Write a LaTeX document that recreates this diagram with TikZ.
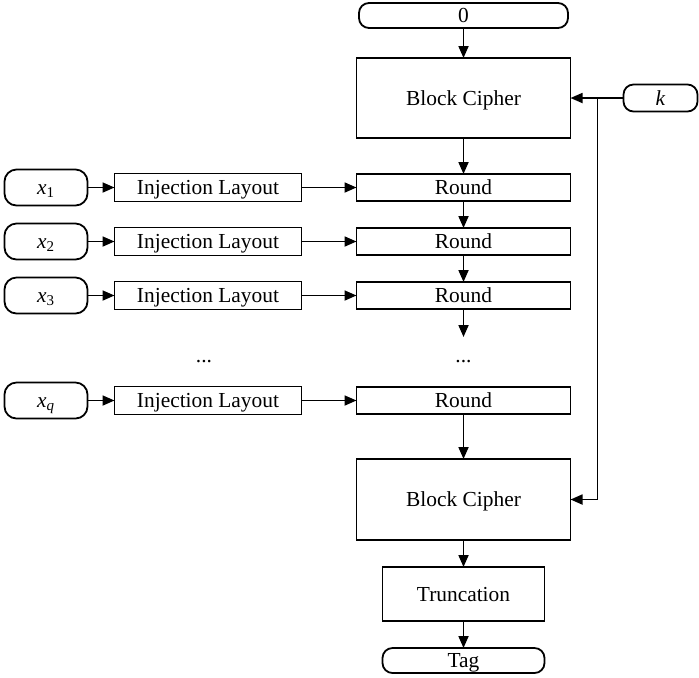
\documentclass[tikz,border=0pt]{standalone}
\usepackage{fontspec}
\setmainfont{Liberation Serif}
\usetikzlibrary{positioning,arrows.meta}

\begin{document}
\begin{tikzpicture}[line width=0.9pt, node distance=13.5pt]
    \tikzstyle{every node}=[font=\fontsize{10.7}{13}\selectfont, inner sep=0pt, outer sep=0pt,
        text height=7.3pt, text depth=0.3pt]
    \tikzstyle{box}=[draw, rectangle, minimum width=107pt, minimum height=13.5pt]
    \tikzstyle{term}=[draw, rectangle, rounded corners=5pt, minimum height=12.5pt]
    \tikzstyle{inbox}=[term, minimum width=41.5pt, minimum height=18pt, rounded corners=6pt]
    \tikzstyle{layout}=[draw, rectangle, minimum width=93.5pt, minimum height=14pt]
    \tikzstyle{arr}=[-{Triangle[length=6pt,width=5pt]}]

    \useasboundingbox (0,0) rectangle (349.5pt,-338.5pt);

    % main column
    \node[box, minimum height=40pt] (bc1) at (231.75pt,-49pt) {Block Cipher};
    \node[term, minimum width=104.5pt, above=15pt of bc1] (zero) {0};
    \node[term, minimum width=37pt, minimum height=13.5pt, right=26.5pt of bc1] (k) {\textit{k}};
    \node[box, below=18pt of bc1] (r1) {Round};
    \node[box, below=of r1] (r2) {Round};
    \node[box, below=of r2] (r3) {Round};
    \coordinate[below=14pt of r3] (r3out);
    \node[below=19.3pt of r3] (rdots) {...};
    \node[box, below=39pt of r3] (rq) {Round};
    \node[box, minimum height=40.5pt, below=22.5pt of rq] (bc2) {Block Cipher};
    \node[draw, rectangle, minimum width=81pt, minimum height=27pt, below=of bc2] (trunc) {Truncation};
    \node[term, minimum width=81pt, below=of trunc] (tag) {Tag};
    \coordinate[right=13.5pt of bc1.east] (kj);

    % inputs
    \node[layout, left=27.5pt of r1] (il1) {Injection Layout};
    \node[layout, left=27.5pt of r2] (il2) {Injection Layout};
    \node[layout, left=27.5pt of r3] (il3) {Injection Layout};
    \node[layout, left=27.5pt of rq] (ilq) {Injection Layout};
    \node[inbox, left=of il1] (x1) {\textit{x}\textsubscript{1}};
    \node[inbox, left=of il2] (x2) {\textit{x}\textsubscript{2}};
    \node[inbox, left=of il3] (x3) {\textit{x}\textsubscript{3}};
    \node[inbox, left=of ilq] (xq) {\textit{x}\textsubscript{\textit{q}}};
    \node[below=19.3pt of il3, xshift=-2pt] (ldots) {...};

    \draw[arr] (zero) -- (bc1);
    \draw[arr] (bc1) -- (r1);
    \draw[arr] (r1) -- (r2);
    \draw[arr] (r2) -- (r3);
    \draw[arr] (r3) -- (r3out);
    \draw[arr] (rq) -- (bc2);
    \draw[arr] (bc2) -- (trunc);
    \draw[arr] (trunc) -- (tag);
    \draw[arr] (k) -- (bc1);
    \draw[arr] (kj) |- (bc2.east);

    \draw[arr] (x1) -- (il1);
    \draw[arr] (x2) -- (il2);
    \draw[arr] (x3) -- (il3);
    \draw[arr] (xq) -- (ilq);
    \draw[arr] (il1) -- (r1);
    \draw[arr] (il2) -- (r2);
    \draw[arr] (il3) -- (r3);
    \draw[arr] (ilq) -- (rq);
\end{tikzpicture}
\end{document}
